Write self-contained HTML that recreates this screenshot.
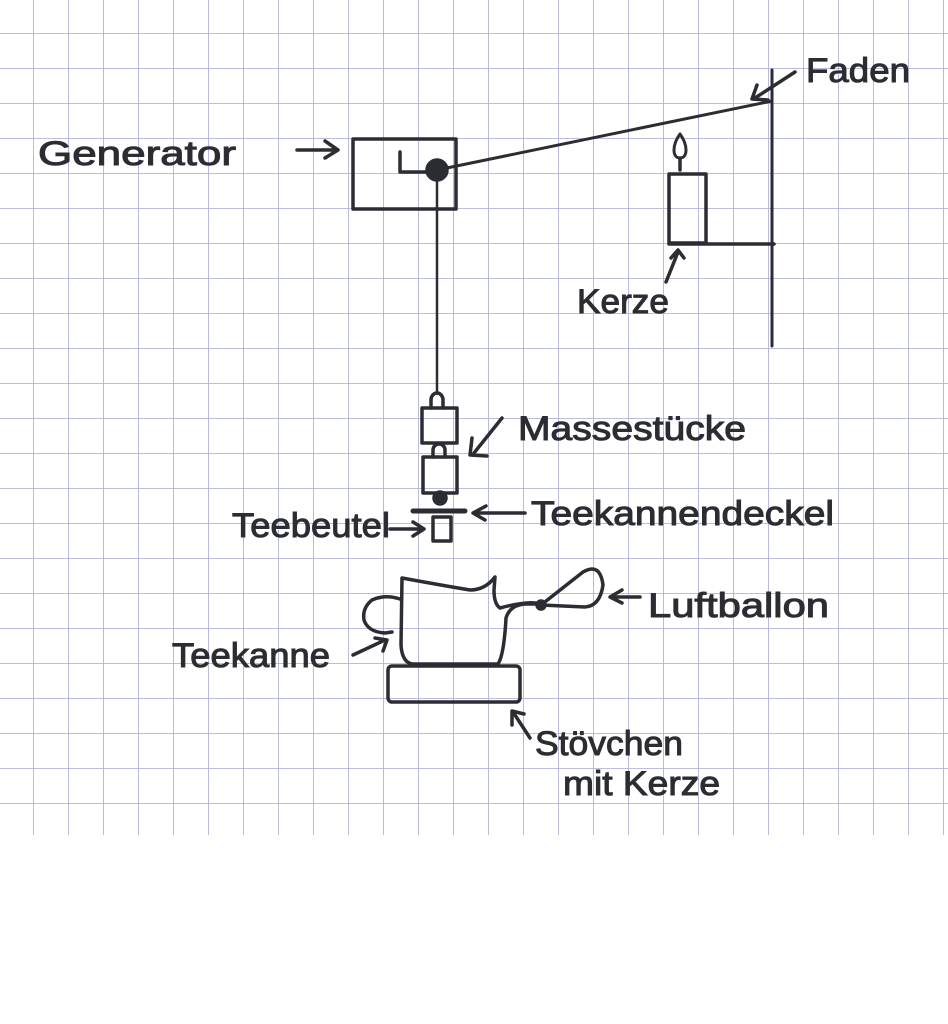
<!DOCTYPE html>
<html><head><meta charset="utf-8"><style>
html,body{margin:0;padding:0;background:#fff;}
svg{display:block}
text{font-family:"Liberation Sans",sans-serif;fill:#2b2d33;stroke:#2b2d33;stroke-width:1;}
</style></head><body>
<svg width="948" height="1024" viewBox="0 0 948 1024" xmlns="http://www.w3.org/2000/svg">
<defs>
<pattern id="g" x="-1" y="-1" width="35" height="35" patternUnits="userSpaceOnUse">
<path d="M35 0V35M0 35H35" stroke="#b3b2d6" stroke-width="1.8" fill="none"/>
</pattern>
</defs>
<rect x="0" y="0" width="948" height="835" fill="url(#g)"/>
<g stroke="#2b2d33" stroke-width="3.5" fill="none" stroke-linecap="round" stroke-linejoin="round">
<rect x="353" y="139" width="103" height="70"/>
<path d="M400 152V172H428"/>
<circle cx="437" cy="170" r="10" fill="#2b2d33"/>
<path d="M437 170L772 101" stroke-width="3"/>
<path d="M437 180V392" stroke-width="2.5"/>
<path d="M772 70V346" stroke-width="3"/>
<path d="M297 150H337M325 141L338 150L325 158"/>
<path d="M795 72L755 98M757 85L752 99L768 100"/>
<rect x="669" y="174" width="37" height="69"/>
<path d="M680 134C672 145 672 158 680 158C688 158 688 145 680 134Z" stroke-width="3"/>
<path d="M680 158V170"/>
<path d="M669 244H774"/>
<path d="M666 282L678 252M671 258L678 250L684 258"/>
<path d="M431 408V400A6 7 0 0 1 443 400V408"/>
<rect x="422" y="408" width="35" height="35"/>
<path d="M433 457V450A6 6 0 0 1 445 450V457"/>
<rect x="423" y="457" width="34" height="36"/>
<circle cx="440" cy="498" r="6" fill="#2b2d33"/>
<path d="M413 511H465" stroke-width="5"/>
<rect x="433" y="517" width="18" height="24"/>
<path d="M502 418L474 453M472 438L470 455L487 456"/>
<path d="M525 513H475M486 506L473 513L485 520"/>
<path d="M390 529H423M413 522L424 529L413 536"/>
<path d="M402 578L401 645Q402 662 412 664H498Q504 655 506 618Q510 605 525 604L540 604Q530 600 500 608Q494 604 494 590L495 577Q485 590 470 590Q440 585 402 578Z"/>
<path d="M400 599Q385 594 372 600Q362 608 364 620Q368 632 385 633L392 632"/>
<path d="M541 605L583 572Q600 562 603 585Q600 606 585 607Z"/>
<circle cx="541" cy="605" r="4" fill="#2b2d33"/>
<path d="M353 655L385 640M375 638L387 640L383 651"/>
<path d="M640 597H612M622 590L610 597L622 603"/>
<rect x="388" y="666" width="132" height="36" rx="4"/>
<path d="M530 738L513 712M512 725L512 711L524 714"/>
</g>
<g font-size="34">
<text x="38" y="165" textLength="198" lengthAdjust="spacingAndGlyphs">Generator</text>
<text x="806" y="82" textLength="104" lengthAdjust="spacingAndGlyphs">Faden</text>
<text x="577" y="313" textLength="92" lengthAdjust="spacingAndGlyphs">Kerze</text>
<text x="518" y="440" textLength="228" lengthAdjust="spacingAndGlyphs">Massestücke</text>
<text x="531" y="525" textLength="303" lengthAdjust="spacingAndGlyphs">Teekannendeckel</text>
<text x="232" y="537" textLength="158" lengthAdjust="spacingAndGlyphs">Teebeutel</text>
<text x="648" y="617" textLength="181" lengthAdjust="spacingAndGlyphs">Luftballon</text>
<text x="172" y="667" textLength="158" lengthAdjust="spacingAndGlyphs">Teekanne</text>
<text x="535" y="755" textLength="148" lengthAdjust="spacingAndGlyphs">Stövchen</text>
<text x="563" y="795" textLength="157" lengthAdjust="spacingAndGlyphs">mit Kerze</text>
</g>
</svg>
</body></html>
